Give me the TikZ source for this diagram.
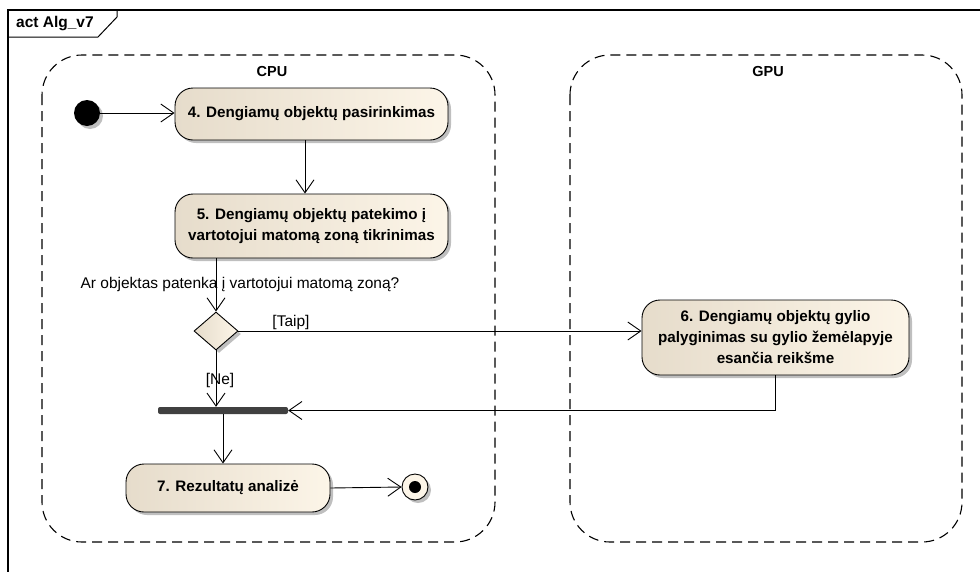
\documentclass[tikz,border=0pt]{standalone}
\usepackage{fontspec}
\setmainfont{Liberation Sans}
\usetikzlibrary{arrows.meta,shapes.geometric,shadows}
\definecolor{actL}{HTML}{E6DCCB}
\definecolor{actR}{HTML}{FCF5E8}
\definecolor{barC}{HTML}{404040}
\begin{document}
\begin{tikzpicture}[x=1pt,y=-1pt,
  shad/.style={drop shadow={shadow xshift=3pt,shadow yshift=-3pt,fill=black!25,opacity=1}},
  act/.style={draw,line width=0.9pt,rounded corners=18pt,left color=actL,right color=actR,
    shad,font=\bfseries\fontsize{15.2}{21}\selectfont,align=center,inner sep=0pt},
  part/.style={draw,line width=1.1pt,dash pattern=on 10pt off 6pt,rounded corners=40pt},
  arr/.style={line width=0.9pt,-{Straight Barb[length=13pt,width=18pt,line width=0.9pt]}},
  lbl/.style={font=\fontsize{15.5}{17}\selectfont,inner sep=0pt},
  plbl/.style={font=\bfseries\fontsize{14.5}{17}\selectfont,inner sep=0pt}]
\useasboundingbox (0,0) rectangle (980,571);
% frame
\draw[line width=1.3pt] (8,575) -- (8,10) -- (985,10);
\draw[line width=1pt] (8,37) -- (98,37) -- (117,17) -- (117,10);
\node[anchor=west,font=\bfseries\fontsize{15.5}{17}\selectfont,inner sep=0pt] (title) at (16,24) {act Alg\_v7};
% partitions
\draw[part] (42,55) rectangle (495,542);
\draw[part] (570,55) rectangle (962,542);
\node[plbl] (cpu) at (272,72) {CPU};
\node[plbl] (gpu) at (768,72) {GPU};
% nodes
\node[circle,fill=black,minimum size=26pt,inner sep=0pt,shad] (start) at (87,113) {};
\node[act,minimum width=273pt,minimum height=52pt] (n4) at (311.5,114) {4. Dengiamų objektų pasirinkimas};
\node[act,minimum width=273pt,minimum height=64pt] (n5) at (311.5,226) {5. Dengiamų objektų patekimo į\\vartotojui matomą zoną tikrinimas};
\node[diamond,draw,line width=0.9pt,left color=actL,right color=actR,shad,minimum width=44pt,minimum height=38pt,inner sep=0pt] (dia) at (216,331) {};
\node[act,minimum width=267pt,minimum height=75pt] (n6) at (775.5,337.5) {6. Dengiamų objektų gylio\\palyginimas su gylio žemėlapyje\\esančia reikšme};
\node[rectangle,fill=barC,rounded corners=2pt,minimum width=130pt,minimum height=7pt,inner sep=0pt] (bar) at (223,410.5) {};
\node[act,minimum width=204pt,minimum height=48pt] (n7) at (228,488) {7. Rezultatų analizė};
\node[circle,draw,line width=0.9pt,fill=actR,minimum size=26pt,inner sep=0pt,shad] (fin) at (415,487) {};
\fill (fin.center) circle (6);
% helper coordinates
\coordinate (c45) at (305,0);
% edges
\draw[arr] (start) -- (n4.west |- start);
\draw[arr] (n4.south -| c45) -- (n5.north -| c45);
\draw[arr] (n5.south -| dia.north) -- (dia.north);
\draw[arr] (dia.east) -- (n6.west |- dia.east);
\draw[arr] (dia.south) -- (bar.north -| dia.south);
\draw[arr] (n6.south) |- (bar.east);
\draw[arr] (bar.south) -- (bar.south |- n7.north);
\draw[arr] (n7.east) -- (fin.west);
% labels
\node[lbl] (q) at (240,284) {Ar objektas patenka į vartotojui matomą zoną?};
\node[lbl] (taip) at (291,322) {[Taip]};
\node[lbl] (ne) at (220,380) {[Ne]};
\end{tikzpicture}
\end{document}
